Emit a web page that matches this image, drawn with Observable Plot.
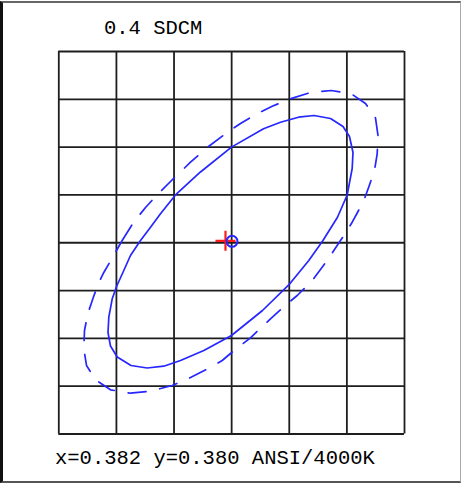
<!DOCTYPE html>
<html><head><meta charset="utf-8">
<script src="https://cdn.jsdelivr.net/npm/d3@7"></script>
<script src="https://cdn.jsdelivr.net/npm/@observablehq/plot@0.6"></script>
<style>
html,body{margin:0;padding:0;background:#fff;}
#wrap{position:relative;width:461px;height:486px;overflow:hidden;background:#fff;}
#plot{position:absolute;left:0;top:0;}
#frame{position:absolute;left:0;top:1px;width:461px;height:482px;box-sizing:border-box;border-left:3px solid #111;border-top:2px solid #666;border-bottom:2px solid #555;border-right:1px solid #aaa;pointer-events:none;}
.lbl{position:absolute;font-family:"Liberation Mono",monospace;font-size:20.5px;line-height:20px;color:#000;white-space:pre;}
</style></head><body>
<div id="wrap">
<div id="plot"></div>
<div class="lbl" id="title" style="left:104px;top:19px"></div>
<div class="lbl" id="caption" style="left:55px;top:449px"></div>
<div id="frame"></div>
</div>
<script>
const titleText = "0.4 SDCM";
const captionText = "x=0.382 y=0.380 ANSI/4000K";

const xTicks = [0.379, 0.380, 0.381, 0.382, 0.383, 0.384, 0.385];
const yTicks = [0.376, 0.377, 0.378, 0.379, 0.380, 0.381, 0.382, 0.383, 0.384];

// solid ellipse (polyline vertices, CIE x / y)
const solidX = [0.380418,0.380592,0.380765,0.381025,0.381459,0.381997,0.382553,0.382848,0.383160,0.383429,0.383716,0.383933,0.384045,0.384106,0.384092,0.384005,0.383837,0.383585,0.383339,0.383009,0.382535,0.381997,0.381517,0.381112,0.380822,0.380534,0.380253,0.380014,0.379897,0.379854,0.379868,0.379927,0.380010,0.380128,0.380244];
const solidY = [0.380047,0.380325,0.380605,0.380999,0.381480,0.382000,0.382383,0.382521,0.382626,0.382661,0.382599,0.382431,0.382222,0.381888,0.381553,0.380999,0.380534,0.380047,0.379629,0.379141,0.378583,0.378060,0.377746,0.377537,0.377418,0.377380,0.377433,0.377610,0.377841,0.378123,0.378443,0.378828,0.379106,0.379420,0.379733];

// dashed ellipse
const dashX = [0.380100,0.380296,0.380505,0.380713,0.380939,0.381286,0.381598,0.381951,0.382154,0.382414,0.382704,0.383021,0.383386,0.383728,0.384075,0.384323,0.384497,0.384540,0.384526,0.384479,0.384380,0.384294,0.384184,0.384092,0.383976,0.383889,0.383658,0.383398,0.383138,0.382964,0.382674,0.382327,0.381980,0.381836,0.381576,0.381286,0.380968,0.380592,0.380244,0.379897,0.379637,0.379481,0.379434,0.379446,0.379503,0.379597,0.379680,0.379781,0.379885,0.379984];
const dashY = [0.380047,0.380424,0.380737,0.381009,0.381281,0.381685,0.382013,0.382333,0.382494,0.382682,0.382856,0.383011,0.383149,0.383184,0.383115,0.382912,0.382609,0.382243,0.381860,0.381511,0.381166,0.380884,0.380633,0.380430,0.380200,0.380047,0.379629,0.379210,0.378897,0.378723,0.378409,0.378012,0.377684,0.377537,0.377359,0.377182,0.377014,0.376895,0.376853,0.376924,0.377134,0.377433,0.377782,0.378165,0.378514,0.378849,0.379127,0.379378,0.379593,0.379802];

const centerPt = [{x: 0.382006, y: 0.380030}];
const crossPt = [{x: 0.381893, y: 0.380041}];

document.getElementById("title").textContent = titleText;
document.getElementById("caption").textContent = captionText;

const solid = solidX.map((x, i) => ({x, y: solidY[i]}));
const dashed = dashX.map((x, i) => ({x, y: dashY[i]}));

const plusSymbol = {
  draw(context, size) {
    const r = Math.sqrt(size / Math.PI);
    context.moveTo(-r, 0); context.lineTo(r, 0);
    context.moveTo(0, -r); context.lineTo(0, r);
  }
};

const blue = "#2626ff";

const chart = Plot.plot({
  width: 461,
  height: 486,
  marginLeft: 58.3,
  marginRight: 57,
  marginTop: 51,
  marginBottom: 52.5,
  style: {background: "transparent"},
  x: {domain: [0.379, 0.385], axis: null},
  y: {domain: [0.376, 0.384], axis: null},
  marks: [
    Plot.gridX(xTicks, {stroke: "#1e1e1e", strokeOpacity: 1, strokeWidth: 1.8}),
    Plot.gridY(yTicks, {stroke: "#1e1e1e", strokeOpacity: 1, strokeWidth: 1.8}),
    Plot.line(dashed, {x: "x", y: "y", curve: "linear-closed", stroke: blue, strokeWidth: 1.7, strokeDasharray: "18,14"}),
    Plot.line(solid, {x: "x", y: "y", curve: "linear-closed", stroke: blue, strokeWidth: 1.7}),
    Plot.dot(crossPt, {x: "x", y: "y", r: 10, symbol: plusSymbol, stroke: "#ff1a1a", strokeWidth: 2.2, fill: "none"}),
    Plot.dot(centerPt, {x: "x", y: "y", r: 5.5, stroke: blue, strokeWidth: 2, fill: "none"})
  ]
});
document.getElementById("plot").appendChild(chart);
</script>
</body></html>
